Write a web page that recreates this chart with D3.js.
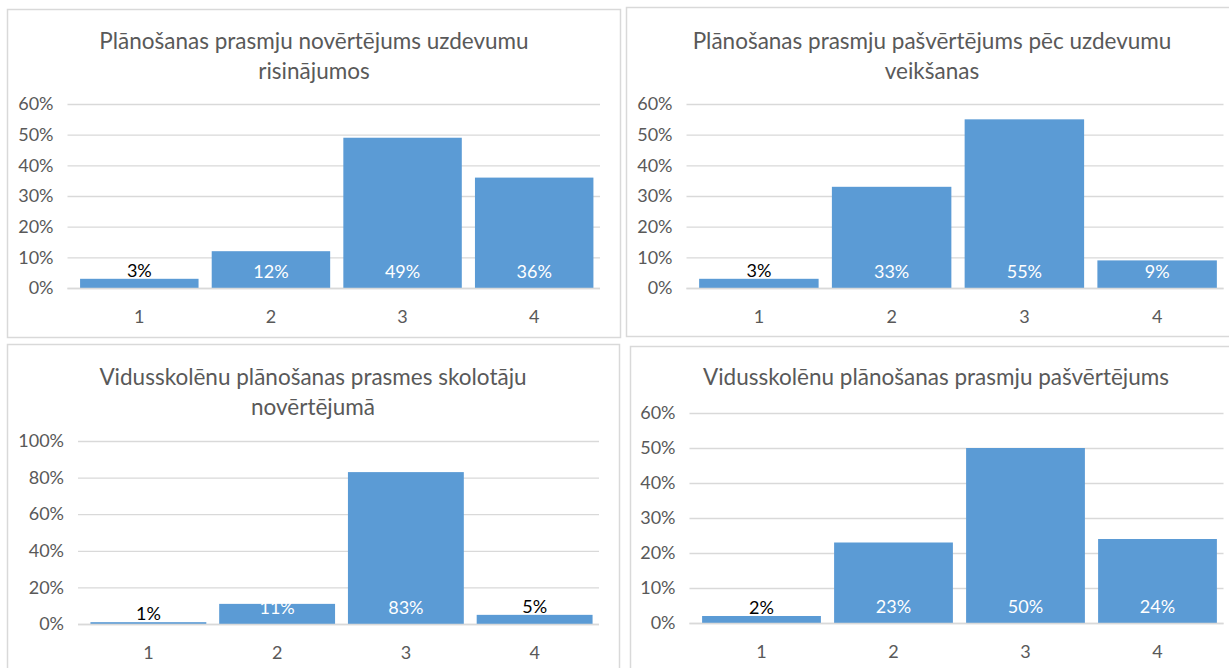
<!DOCTYPE html>
<html>
<head>
<meta charset="utf-8">
<script src="https://cdn.jsdelivr.net/npm/d3@7"></script>
<style>
  body { margin: 0; background: #fff; }
  text { font-family: Lato, "Open Sans", sans-serif; }
</style>
</head>
<body>
<div id="chart"></div>
<script>
var width = 1229,
    height = 668;

// data
var categories = ["1", "2", "3", "4"];

var titles = [
  ["Plānošanas prasmju novērtējums uzdevumu", "risinājumos"],
  ["Plānošanas prasmju pašvērtējums pēc uzdevumu", "veikšanas"],
  ["Vidusskolēnu plānošanas prasmes skolotāju", "novērtējumā"],
  ["Vidusskolēnu plānošanas prasmju pašvērtējums"]
];

var valuesA = [0.03, 0.12, 0.49, 0.36];
var valuesB = [0.03, 0.33, 0.55, 0.09];
var valuesC = [0.01, 0.11, 0.83, 0.05];
var valuesD = [0.02, 0.23, 0.50, 0.24];

var yMax = [0.6, 0.6, 1.0, 0.6];
var yStep = [0.1, 0.1, 0.2, 0.1];

var series = [valuesA, valuesB, valuesC, valuesD];

// layout of each panel (box + plot area)
var panels = [
  {box: [7, 9, 613, 328],  plot: [73.5, 600, 104, 288], titleY: 40, cx: 314},
  {box: [626, 7, 620, 329], plot: [692.5, 1223.5, 104, 288], titleY: 40, cx: 932},
  {box: [7, 344, 612, 340], plot: [84, 599, 441, 624], titleY: 376, cx: 313},
  {box: [630, 346, 620, 340], plot: [695.5, 1223.5, 413, 623], titleY: 376, cx: 936}
];

var barColor = "#5b9bd5",
    gridColor = "#d9d9d9",
    textColor = "#595959";

var svg = d3.select("#chart").append("svg")
    .attr("width", width)
    .attr("height", height);

panels.forEach(function(p, i) {
  var g = svg.append("g");
  var vals = series[i];

  g.append("rect")
    .attr("x", p.box[0] + 0.5)
    .attr("y", p.box[1] + 0.5)
    .attr("width", p.box[2])
    .attr("height", p.box[3])
    .attr("fill", "#fff")
    .attr("stroke", gridColor)
    .attr("stroke-width", 1.5);

  var x = d3.scaleBand()
    .domain(categories)
    .range([p.plot[0], p.plot[1]])
    .paddingInner(0.1)
    .paddingOuter(0.05);

  var y = d3.scaleLinear()
    .domain([0, yMax[i]])
    .range([p.plot[3], p.plot[2]]);

  var ticks = d3.range(0, yMax[i] + 1e-9, yStep[i]);

  // title
  g.append("g").selectAll("text")
    .data(titles[i])
    .enter().append("text")
    .attr("x", p.cx)
    .attr("y", function(d, k) { return p.titleY + k * 30; })
    .attr("text-anchor", "middle")
    .attr("dominant-baseline", "central")
    .attr("fill", textColor)
    .style("font-size", "22.5px")
    .text(function(d) { return d; });

  // gridlines + y labels
  var yAxis = d3.axisLeft(y)
    .tickValues(ticks)
    .tickSize(-(p.plot[1] - p.plot[0]) - 6)
    .tickPadding(14)
    .tickFormat(d3.format(".0%"));

  var ga = g.append("g")
    .attr("transform", "translate(" + (p.plot[0] - 6) + ",0)")
    .call(yAxis);
  ga.select(".domain").remove();
  ga.selectAll(".tick line").attr("stroke", gridColor).attr("stroke-width", 1.3);
  ga.selectAll(".tick text")
    .attr("fill", textColor)
    .style("font-size", "18px");

  // bars
  g.append("g").selectAll("rect")
    .data(vals)
    .enter().append("rect")
    .attr("x", function(d, k) { return x(categories[k]); })
    .attr("y", function(d) { return y(d); })
    .attr("width", x.bandwidth())
    .attr("height", function(d) { return y(0) - y(d); })
    .attr("fill", barColor);

  // base line
  g.append("line")
    .attr("x1", p.plot[0] - 6)
    .attr("x2", p.plot[1])
    .attr("y1", y(0) + 0.5)
    .attr("y2", y(0) + 0.5)
    .attr("stroke", gridColor)
    .attr("stroke-width", 1.3);

  // x labels
  var xAxis = d3.axisBottom(x).tickSize(0).tickPadding(22);
  var gx = g.append("g")
    .attr("transform", "translate(0," + y(0) + ")")
    .call(xAxis);
  gx.select(".domain").remove();
  gx.selectAll(".tick text")
    .attr("fill", textColor)
    .style("font-size", "18px");

  // data labels
  g.append("g").selectAll("text")
    .data(vals)
    .enter().append("text")
    .attr("x", function(d, k) { return x(categories[k]) + x.bandwidth() / 2; })
    .attr("y", function(d) {
      var h = y(0) - y(d);
      return h > 16 ? y(0) - 17 : y(d) - 9;
    })
    .attr("text-anchor", "middle")
    .attr("dominant-baseline", "central")
    .attr("fill", function(d) { return (y(0) - y(d)) > 16 ? "#fff" : "#000"; })
    .style("font-size", "18px")
    .text(d3.format(".0%"));
});
</script>
</body>
</html>
